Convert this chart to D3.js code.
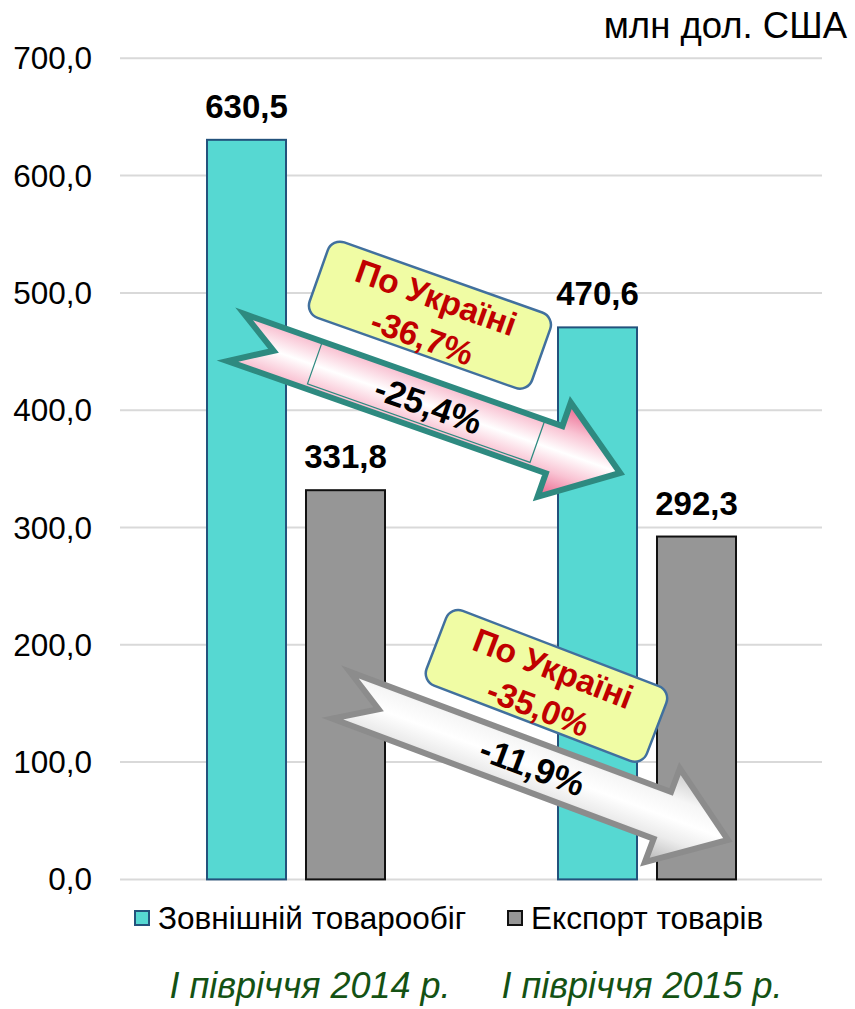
<!DOCTYPE html>
<html>
<head>
<meta charset="utf-8">
<script src="https://cdn.jsdelivr.net/npm/d3@7"></script>
<style>
  body { margin: 0; background: #fff; }
  text { font-family: "Liberation Sans", Arial, sans-serif; }
</style>
</head>
<body>
<div id="chart"></div>
<script>
// data
var periods = ["І півріччя 2014 р.", "І півріччя 2015 р."];
var series = ["Зовнішній товарообіг", "Експорт товарів"];
var turnover = [630.5, 470.6];
var exports = [331.8, 292.3];
var yTicks = [0, 100, 200, 300, 400, 500, 600, 700];

// change annotations (x in group units, y in value units)
var arrowLabels = ["-25,4%", "-11,9%"];
var arrowTail = [[0.33, 462], [0.63, 157]];
var arrowTip = [[1.425, 346.5], [1.732, 33.7]];
var calloutLines = [["По Україні", "-36,7%"], ["По Україні", "-35,0%"]];
var calloutAt = [[0.883, 481], [1.215, 165]];
var calloutAngle = [19.5, 21];

var W = 855, H = 1009;
var plotLeft = 120, plotRight = 822, plotTop = 58.3, plotBottom = 879.4;

var svg = d3.select("#chart").append("svg")
  .attr("width", W).attr("height", H);

var defs = svg.append("defs");
var g1 = defs.append("linearGradient").attr("id", "pinkGrad")
  .attr("gradientUnits", "userSpaceOnUse")
  .attr("x1", 0).attr("y1", -50).attr("x2", 0).attr("y2", 50);
[[0, "#ea5f88"], [0.28, "#f9c3d3"], [0.5, "#ffffff"], [0.72, "#f9c3d3"], [1, "#ea5f88"]]
  .forEach(function(s) { g1.append("stop").attr("offset", s[0]).attr("stop-color", s[1]); });
var g2 = defs.append("linearGradient").attr("id", "grayGrad")
  .attr("gradientUnits", "userSpaceOnUse")
  .attr("x1", 0).attr("y1", -50).attr("x2", 0).attr("y2", 50);
[[0, "#c8c8c8"], [0.3, "#f6f6f6"], [0.5, "#ffffff"], [0.7, "#ececec"], [1, "#b4b4b4"]]
  .forEach(function(s) { g2.append("stop").attr("offset", s[0]).attr("stop-color", s[1]); });

var x0 = d3.scaleBand().domain(periods).range([plotLeft, plotRight]);
var x1 = d3.scaleBand().domain(series).range([87, 265]).paddingInner(0.202);
var xc = d3.scaleLinear().domain([0, 2]).range([plotLeft, plotRight]);
var y = d3.scaleLinear().domain([0, 700]).range([plotBottom, plotTop]);
var colors = d3.scaleOrdinal().domain(series).range(["#56d8d2", "#969696"]);
var strokes = d3.scaleOrdinal().domain(series).range(["#23527c", "#111111"]);

// grid
svg.append("g").selectAll("line")
  .data(yTicks).enter().append("line")
  .attr("x1", plotLeft).attr("x2", plotRight)
  .attr("y1", function(d) { return y(d); })
  .attr("y2", function(d) { return y(d); })
  .attr("stroke", "#d9d9d9").attr("stroke-width", 2);

// y labels
svg.append("g").selectAll("text")
  .data(yTicks).enter().append("text")
  .attr("x", 92)
  .attr("y", function(d) { return y(d) + 11; })
  .attr("text-anchor", "end")
  .attr("font-size", 31.5)
  .attr("fill", "#000")
  .text(function(d) { return d3.format(".1f")(d).replace(".", ","); });

svg.append("text")
  .attr("x", 847).attr("y", 38)
  .attr("text-anchor", "end")
  .attr("font-size", 36.5)
  .text("млн дол. США");

// bars
var rows = periods.map(function(p, i) {
  return { period: p, vals: [turnover[i], exports[i]] };
});
var groups = svg.append("g").selectAll("g")
  .data(rows).enter().append("g")
  .attr("transform", function(d) { return "translate(" + x0(d.period) + ",0)"; });

groups.selectAll("rect")
  .data(function(d) { return series.map(function(s, j) { return { key: s, value: d.vals[j] }; }); })
  .enter().append("rect")
  .attr("x", function(d) { return x1(d.key); })
  .attr("width", x1.bandwidth())
  .attr("y", function(d) { return y(d.value); })
  .attr("height", function(d) { return y(0) - y(d.value); })
  .attr("fill", function(d) { return colors(d.key); })
  .attr("stroke", function(d) { return strokes(d.key); })
  .attr("stroke-width", 2);

groups.selectAll("text")
  .data(function(d) { return series.map(function(s, j) { return { key: s, value: d.vals[j] }; }); })
  .enter().append("text")
  .attr("x", function(d) { return x1(d.key) + x1.bandwidth() / 2; })
  .attr("y", function(d) { return y(d.value) - 22; })
  .attr("text-anchor", "middle")
  .attr("font-size", 33)
  .attr("font-weight", "bold")
  .text(function(d) { return d3.format(".1f")(d.value).replace(".", ","); });

// arrows
var bodyW = 50, headW = 100, headL = 70, notch = 40;
arrowLabels.forEach(function(lbl, i) {
  var tx = xc(arrowTail[i][0]), ty = y(arrowTail[i][1]);
  var px = xc(arrowTip[i][0]), py = y(arrowTip[i][1]);
  var L = Math.hypot(px - tx, py - ty);
  var ang = Math.atan2(py - ty, px - tx) * 180 / Math.PI;
  var pts = [[0, -bodyW / 2], [L - headL, -bodyW / 2], [L - headL, -headW / 2], [L, 0],
             [L - headL, headW / 2], [L - headL, bodyW / 2], [0, bodyW / 2], [notch, 0]];
  var a = svg.append("g")
    .attr("transform", "translate(" + tx + "," + ty + ") rotate(" + ang + ")");
  a.append("path")
    .attr("d", d3.line()(pts) + "Z")
    .attr("fill", i == 0 ? "url(#pinkGrad)" : "url(#grayGrad)")
    .attr("stroke", i == 0 ? "#2e8a80" : "#8c8c8c")
    .attr("stroke-width", 6)
    .attr("stroke-linejoin", "miter");
  if (i == 0) {
    a.append("rect")
      .attr("x", 83).attr("y", -26).attr("width", 236).attr("height", 46)
      .attr("fill", "none").attr("stroke", "#2e8a80").attr("stroke-width", 1.2);
  }
  a.append("text")
    .attr("x", 204).attr("y", 12)
    .attr("text-anchor", "middle")
    .attr("font-size", 35)
    .attr("font-weight", "bold")
    .text(lbl);
});

// callouts
calloutLines.forEach(function(lines, i) {
  var c = svg.append("g")
    .attr("transform", "translate(" + xc(calloutAt[i][0]) + "," + y(calloutAt[i][1]) + ") rotate(" + calloutAngle[i] + ")");
  c.append("rect")
    .attr("x", -118).attr("y", -40).attr("width", 236).attr("height", 80)
    .attr("rx", 13)
    .attr("fill", "#f0fca4").attr("stroke", "#41709e").attr("stroke-width", 2.5);
  c.selectAll("text").data(lines).enter().append("text")
    .attr("x", 0)
    .attr("y", function(d, j) { return j == 0 ? -7 : 35; })
    .attr("text-anchor", "middle")
    .attr("font-size", 33.5)
    .attr("font-weight", "bold")
    .attr("fill", "#c00000")
    .text(function(d) { return d; });
});

// legend
var legX = [134, 507];
var leg = svg.append("g").selectAll("g")
  .data(series).enter().append("g")
  .attr("transform", function(d, i) { return "translate(" + legX[i] + ",910)"; });
leg.append("rect")
  .attr("x", 1).attr("y", 1).attr("width", 14).attr("height", 14)
  .attr("fill", function(d) { return colors(d); })
  .attr("stroke", function(d) { return strokes(d); })
  .attr("stroke-width", 2);
leg.append("text")
  .attr("x", 24).attr("y", 19)
  .attr("font-size", 31.5)
  .text(function(d) { return d; });

// period labels
svg.append("g").selectAll("text")
  .data(periods).enter().append("text")
  .attr("x", function(d, i) { return [310, 642][i]; })
  .attr("y", 998)
  .attr("text-anchor", "middle")
  .attr("font-size", 36)
  .attr("font-style", "italic")
  .attr("fill", "#145214")
  .text(function(d) { return d; });
</script>
</body>
</html>
